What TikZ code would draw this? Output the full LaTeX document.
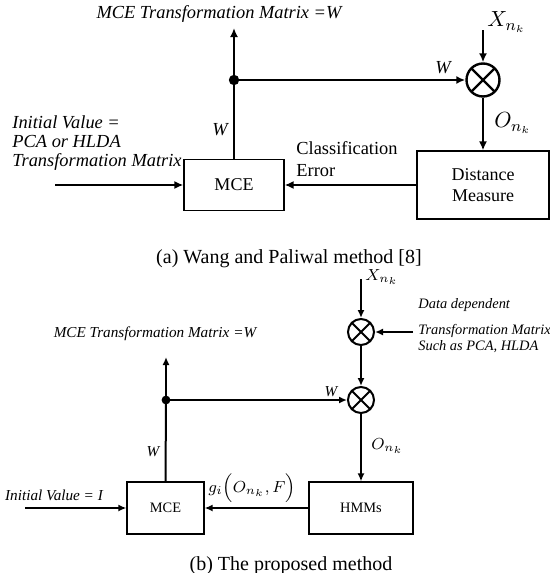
\documentclass[tikz,border=0pt]{standalone}
\usepackage{amsmath,fontspec}
\setmainfont{Liberation Serif}
\usetikzlibrary{arrows.meta,positioning}

\begin{document}
\begin{tikzpicture}[x=0.5pt,y=-0.5pt,
  box/.style={draw,line width=0.6pt,rectangle,inner sep=1pt,align=center},
  mult/.style={draw,circle,inner sep=0pt,path picture={
    \draw (path picture bounding box.south west)--(path picture bounding box.north east)
          (path picture bounding box.north west)--(path picture bounding box.south east);}},
  arr/.style={-{Latex[length=4.5pt,width=4pt]}},
  lab/.style={font=\fontsize{9.2}{9.3}\selectfont\itshape,inner sep=0pt}]
\useasboundingbox (0,0) rectangle (550,573);
% (a) Wang and Paliwal
\begin{scope}[line width=1.2pt]
\node[box,minimum width=50pt,minimum height=25.5pt,font=\fontsize{9}{10}\selectfont] (mceA) at (234,185) {MCE};
\node[box,minimum width=66pt,minimum height=34pt,font=\fontsize{9}{10.5}\selectfont] (distA) at (483,185) {Distance\\Measure};
\node[mult,minimum size=16.5pt] (mulA) at (483,80) {};
\fill (234,80) circle (2.6pt) coordinate (dotA);
\coordinate (topA) at (234,28);
\coordinate (xA) at (483,30);
\coordinate (initA) at (55,185);
\draw[arr] (dotA) -- (topA);
\draw (dotA) -- (mceA.north);
\draw[arr] (dotA) -- (mulA.west);
\draw[arr] (xA) -- (mulA.north);
\draw[arr] (mulA.south) -- (distA.north);
\draw[arr] (distA.west) -- (mceA.east);
\draw[arr] (initA) -- (mceA.west);
\end{scope}
\node[lab] (titleA) at (219,14) {MCE Transformation Matrix =W};
\node[lab] (wA1) at (443,68) {W};
\node[lab] (wA2) at (220,130) {W};
\node[anchor=west,inner sep=0pt,font=\fontsize{11}{12}\selectfont] (xlabA) at (487,22) {$X_{n_k}$};
\node[anchor=west,inner sep=0pt,font=\fontsize{11}{12}\selectfont] (olabA) at (494,123) {$O_{n_k}$};
\node[lab,anchor=west,align=left] (initlabA) at (12,143) {Initial Value =\\PCA or HLDA\\Transformation Matrix};
\node[anchor=west,align=left,inner sep=0pt,font=\fontsize{9.2}{11}\selectfont] (errA) at (296,159) {Classification\\Error};
\node[font=\fontsize{10}{12}\selectfont] (capA) at (289,259) {(a) Wang and Paliwal method [8]};
% (b) proposed
\begin{scope}[line width=1pt,arr/.style={-{Latex[length=4pt,width=3.5pt]}}]
\node[box,minimum width=38.5pt,minimum height=26pt,font=\fontsize{7.2}{8}\selectfont] (mceB) at (165.5,508) {MCE};
\node[box,minimum width=52pt,minimum height=26pt,font=\fontsize{7.2}{8}\selectfont] (hmmB) at (361,508) {HMMs};
\node[mult,minimum size=13pt] (mulB1) at (361,332) {};
\node[mult,minimum size=13pt] (mulB2) at (361,400) {};
\fill (166,400) circle (2.2pt) coordinate (dotB);
\coordinate (topB) at (166,357);
\coordinate (xB) at (361,279);
\coordinate (dataB) at (413,332);
\coordinate (initB) at (25,508);
\draw[arr] (xB) -- (mulB1.north);
\draw[arr] (dataB) -- (mulB1.east);
\draw[arr] (mulB1.south) -- (mulB2.north);
\draw[arr] (dotB) -- (mulB2.west);
\draw[arr] (dotB) -- (topB);
\draw (dotB) -- (mceB.north);
\draw[arr] (mulB2.south) -- (hmmB.north);
\draw[arr] (hmmB.west) -- (mceB.east);
\draw[arr] (initB) -- (mceB.west);
\end{scope}
\tikzset{labB/.style={lab,font=\fontsize{7.6}{8}\selectfont\itshape}}
\node[labB] (titleB) at (155,334) {MCE Transformation Matrix =W};
\node[labB] (wB1) at (331,392) {W};
\node[labB] (wB2) at (153,452) {W};
\node[anchor=west,inner sep=0pt,font=\fontsize{8}{9}\selectfont] (xlabB) at (365,277) {$X_{n_k}$};
\node[anchor=west,inner sep=0pt,font=\fontsize{8}{9}\selectfont] (olabB) at (371,446) {$O_{n_k}$};
\node[labB,anchor=west,align=left,font=\fontsize{7.2}{8}\selectfont\itshape] (datalabB) at (418,326) {Data dependent\\[5pt]Transformation Matrix\\Such as PCA, HLDA};
\node[inner sep=0pt,font=\fontsize{8.5}{10}\selectfont] (glabB) at (252,488) {$g_i\Bigl(O_{n_k},F\Bigr)$};
\node[labB] (initlabB) at (54,495) {Initial Value = I};
\node[font=\fontsize{10}{12}\selectfont] (capB) at (291,566) {(b) The proposed method};
\end{tikzpicture}
\end{document}
